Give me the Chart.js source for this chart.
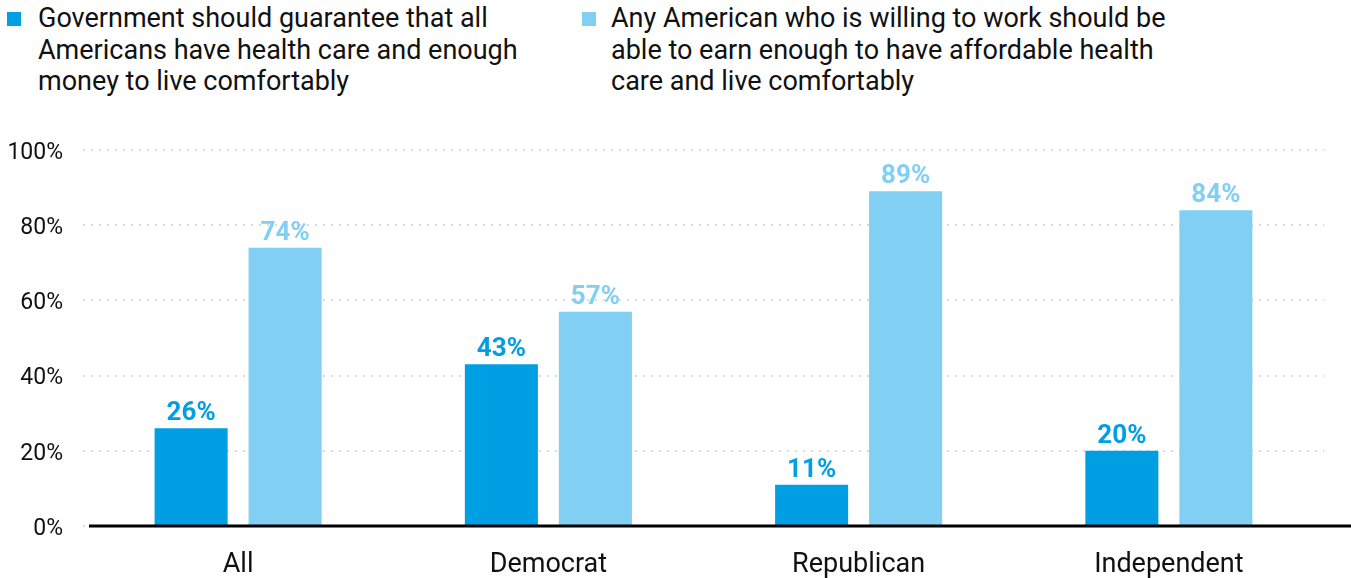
<!DOCTYPE html>
<html>
<head>
<meta charset="utf-8">
<script src="https://cdn.jsdelivr.net/npm/chart.js@4"></script>
<style>
  html, body { margin: 0; padding: 0; background: #fff; }
  body { width: 1351px; height: 578px; position: relative; overflow: hidden; font-family: Roboto, "Noto Sans", sans-serif; }
  #chart-wrap { position: absolute; left: 0; top: 0; width: 1351px; height: 578px; }
  .legend-item { position: absolute; top: 3px; font-size: 27px; line-height: 31.5px; color: #111; }
  .legend-item .box { position: absolute; top: 9px; width: 14px; height: 14px; }
  .legend-item .txt { position: absolute; white-space: nowrap; }
</style>
</head>
<body>
<div id="legend"></div>
<div id="chart-wrap"><canvas id="barChart" width="1351" height="578"></canvas></div>
<script>
// dados
const categorias = ["All", "Democrat", "Republican", "Independent"];
const governoDeveGarantir = [26, 43, 11, 20];
const quemTrabalhaDeveGanhar = [74, 57, 89, 84];
const yTicks = [0, 20, 40, 60, 80, 100];
const serieNomes = [
    ["Government should guarantee that all", "Americans have health care and enough", "money to live comfortably"],
    ["Any American who is willing to work should be", "able to earn enough to have affordable health", "care and live comfortably"]
];
const cores = ["#009fe4", "#82cff4"];

function renderLegend() {
    let legend = document.getElementById('legend');
    let posicoes = [{ box: 7, txt: 38 }, { box: 582, txt: 611 }];
    serieNomes.forEach((linhas, i) => {
        let item = `
            <div class="legend-item" style="left:0">
                <div class="box" style="left:${posicoes[i].box}px;background:${cores[i]}"></div>
                <div class="txt" style="left:${posicoes[i].txt}px">${linhas.join('<br>')}</div>
            </div>
        `;
        legend.insertAdjacentHTML('beforeend', item);
    });
}

// rótulos de valor por cima das barras
const valueLabels = {
    id: 'valueLabels',
    afterDatasetsDraw(chart) {
        const ctx = chart.ctx;
        ctx.save();
        ctx.font = 'bold 26px Roboto';
        ctx.textAlign = 'center';
        ctx.textBaseline = 'alphabetic';
        chart.data.datasets.forEach((ds, i) => {
            chart.getDatasetMeta(i).data.forEach((bar, j) => {
                ctx.fillStyle = cores[i];
                ctx.fillText(ds.data[j] + '%', bar.x, bar.y - 8);
            });
        });
        ctx.restore();
    }
};

// linha de base preta
const baseLine = {
    id: 'baseLine',
    afterDatasetsDraw(chart) {
        const ctx = chart.ctx;
        const y = chart.scales.y.getPixelForValue(0);
        ctx.save();
        ctx.strokeStyle = '#000';
        ctx.lineWidth = 3;
        ctx.beginPath();
        ctx.moveTo(chart.chartArea.left + 6, y);
        ctx.lineTo(chart.width, y);
        ctx.stroke();
        ctx.restore();
    }
};

function initChart() {
    const ctx = document.getElementById('barChart').getContext('2d');
    new Chart(ctx, {
        type: 'bar',
        data: {
            labels: categorias,
            datasets: [
                {
                    label: serieNomes[0].join(' '),
                    data: governoDeveGarantir,
                    backgroundColor: cores[0],
                    categoryPercentage: 0.606,
                    barPercentage: 0.777
                },
                {
                    label: serieNomes[1].join(' '),
                    data: quemTrabalhaDeveGanhar,
                    backgroundColor: cores[1],
                    categoryPercentage: 0.606,
                    barPercentage: 0.777
                }
            ]
        },
        options: {
            responsive: false,
            animation: false,
            maintainAspectRatio: false,
            layout: { padding: { top: 150, right: 27, left: 0, bottom: 0 } },
            plugins: {
                legend: { display: false },
                tooltip: { enabled: false }
            },
            scales: {
                x: {
                    grid: { display: false },
                    border: { display: false },
                    ticks: { font: { family: 'Roboto', size: 27 }, color: '#111', padding: 15 },
                    afterFit: (scale) => { scale.height = 52; }
                },
                y: {
                    min: 0,
                    max: 100,
                    afterBuildTicks: (scale) => { scale.ticks = yTicks.map(v => ({ value: v })); },
                    ticks: {
                        font: { family: 'Roboto', size: 23 },
                        color: '#111',
                        padding: 20,
                        labelOffset: 3,
                        callback: (v) => v + '%'
                    },
                    grid: { color: '#dadada', lineWidth: 2, drawTicks: false },
                    border: { display: false, dash: [2, 6] },
                    afterFit: (scale) => { scale.width = 83; }
                }
            }
        },
        plugins: [valueLabels, baseLine]
    });
}

document.addEventListener('DOMContentLoaded', function () {
    renderLegend();
    initChart();
});
</script>
</body>
</html>
